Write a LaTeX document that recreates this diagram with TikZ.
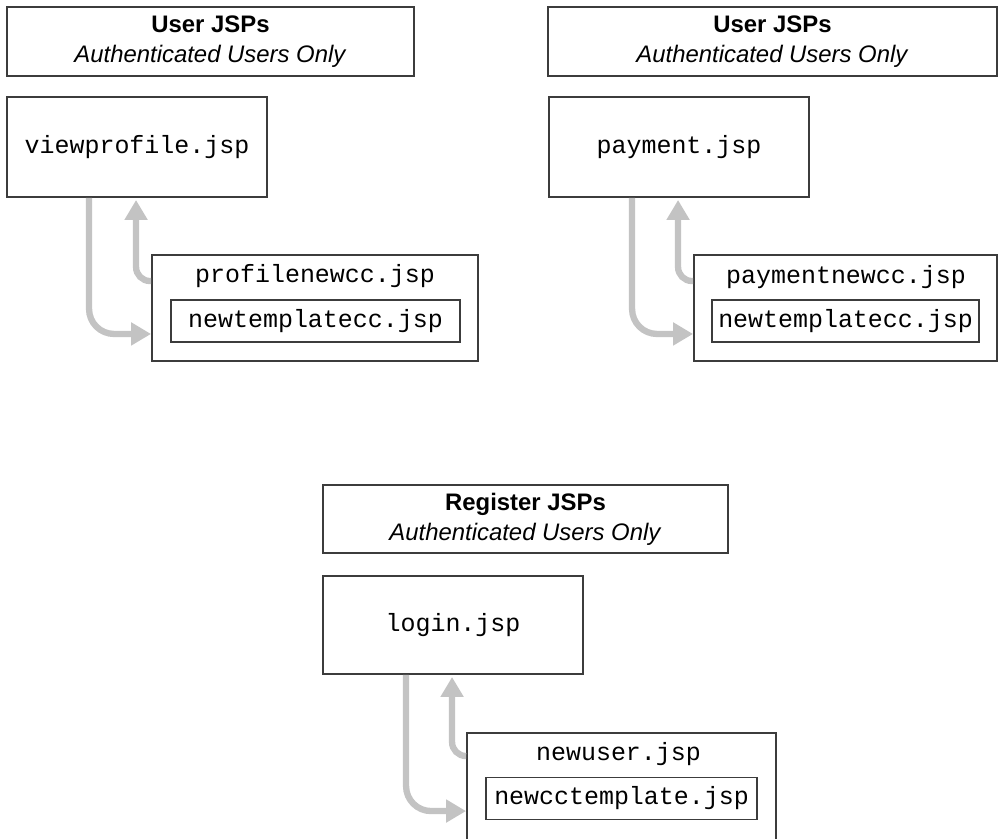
\documentclass[tikz,border=0pt]{standalone}
\usepackage{fontspec}
\setmainfont{Liberation Sans}
\newfontfamily\codefont{Liberation Mono}
\usetikzlibrary{arrows.meta}
\usetikzlibrary{calc}

\definecolor{boxgray}{RGB}{60,60,60}
\definecolor{flowgray}{RGB}{195,195,195}

\tikzset{
	hdr/.style = {draw = boxgray, line width = 1.1pt, minimum height = 1.37cm, inner sep = 0pt, align = center, font = \fontsize{13.6}{17}\selectfont},
	page/.style = {draw = boxgray, line width = 1.1pt, minimum width = 5.2cm, minimum height = 2cm, inner sep = 0pt, font = \codefont\fontsize{14.2}{16}\selectfont},
	incl/.style = {draw = boxgray, line width = 1.1pt, minimum height = 2.12cm, inner sep = 0pt},
	tmpl/.style = {draw = boxgray, line width = 1.1pt, minimum height = 0.84cm, inner sep = 0pt, font = \codefont\fontsize{14.2}{16}\selectfont},
	pname/.style = {inner sep = 0pt, font = \codefont\fontsize{14.2}{16}\selectfont},
	flow/.style = {draw = flowgray, line width = 3.6pt, -{Triangle[width = 0.44cm, length = 0.4cm]}}
}

\begin{document}
\begin{tikzpicture}[x = 0.02cm, y = -0.02cm]
		
		\useasboundingbox (0,0) rectangle (999,838);
		
		% user jsps, left
		\node[hdr, minimum width = 8.14cm] (hdrA) at (210.5,41.5) {\textbf{User JSPs}\\\textit{Authenticated Users Only}};
		\node[page] (viewprofile) at (137,147) {viewprofile.jsp};
		% include box
		\node[incl, minimum width = 6.52cm] (profilenewcc) at (315,308) {};
		\node[pname] (profilenewccname) at (315,276) {profilenewcc.jsp};
		\node[tmpl, minimum width = 5.78cm] (tmplA) at (315.5,321) {newtemplatecc.jsp};
		
		\draw[flow, rounded corners = 0.5cm] ($(viewprofile.south west)+(83,0)$) |- ($(profilenewcc.south west)+(0,-28)$);
		\draw[flow, rounded corners = 0.28cm] ($(profilenewcc.north west)+(0,27)$) -| ($(viewprofile.south west)+(130,2)$);
		
		
		% user jsps, right
		\node[hdr, minimum width = 8.98cm] (hdrB) at (772.5,41.5) {\textbf{User JSPs}\\\textit{Authenticated Users Only}};
		\node[page] (payment) at (679,147) {payment.jsp};
		% include box
		\node[incl, minimum width = 6.06cm] (paymentnewcc) at (845.5,308) {};
		\node[pname] (paymentnewccname) at (846,277) {paymentnewcc.jsp};
		\node[tmpl, minimum width = 5.34cm] (tmplB) at (845.5,321) {newtemplatecc.jsp};
		
		\draw[flow, rounded corners = 0.5cm] ($(payment.south west)+(84,0)$) |- ($(paymentnewcc.south west)+(0,-28)$);
		\draw[flow, rounded corners = 0.28cm] ($(paymentnewcc.north west)+(0,27)$) -| ($(payment.south west)+(130,2)$);
		
		
		% register jsps
		\node[hdr, minimum width = 8.1cm] (hdrC) at (525.5,519) {\textbf{Register JSPs}\\\textit{Authenticated Users Only}};
		\node[page, minimum height = 1.96cm] (login) at (453,625) {login.jsp};
		% include box, bottom edge runs off the page
		\node[incl, minimum width = 6.18cm, minimum height = 2.2cm] (newuser) at (621.5,788) {};
		\node[pname] (newusername) at (618.5,754) {newuser.jsp};
		\node[tmpl, minimum width = 5.42cm] (tmplC) at (621.5,798.5) {newcctemplate.jsp};
		
		\draw[flow, rounded corners = 0.5cm] ($(login.south west)+(84,0)$) |- ($(newuser.north west)+(0,79)$);
		\draw[flow, rounded corners = 0.28cm] ($(newuser.north west)+(0,24)$) -| ($(login.south west)+(130,2)$);
		
	\end{tikzpicture}
\end{document}
